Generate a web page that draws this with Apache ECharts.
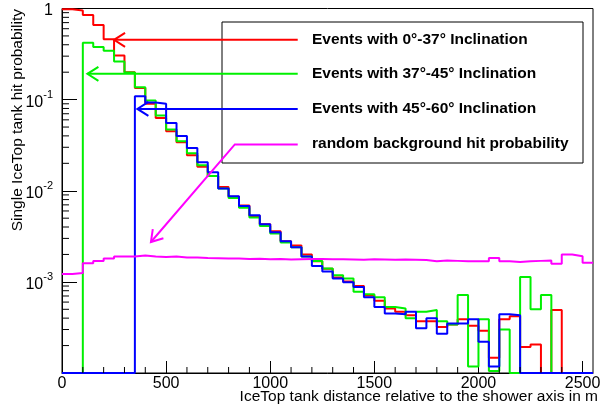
<!DOCTYPE html>
<html>
<head>
<meta charset="utf-8">
<script src="https://cdn.jsdelivr.net/npm/echarts@6/dist/echarts.min.js"></script>
<style>html,body{margin:0;padding:0;background:#fff}#c{width:609px;height:410px}</style>
</head>
<body>
<div id="c"></div>
<script>
// ---- data (bin width 50 m, bins start at 0) ----
const BIN = 50;
const xMax = 2550;
const yMin = 1e-4, yMax = 1;
const legendLabels = [
  'Events with 0°-37° Inclination',
  'Events with 37°-45° Inclination',
  'Events with 45°-60° Inclination',
  'random background hit probability'
];
const red = [0.98,0.95,0.85,0.66,0.46,0.305,0.20,0.134,0.090,0.063,
  0.045,0.034,0.0245,0.0183,0.0145,0.0110,0.0086,0.0069,0.0053,0.0043,
  0.0036,0.0028,0.0025,0.0020,0.00168,0.00139,0.00112,0.00101,0.00090,0.00071,
  0.00062,0.00051,0.00047,0.00043,0.00037,0.00037,0.00032,0.00034,0.00039,0.00033,
  0.00029,0.000147,0.00039,0.00042,0.000193,0.000205,0,0.00049,0,0,0];
const green = [0,0,0.42,0.377,0.343,0.262,0.198,0.137,0.098,0.067,
  0.047,0.035,0.0258,0.019,0.0145,0.0106,0.0083,0.0065,0.0051,0.0041,
  0.0034,0.0027,0.0024,0.0019,0.0017,0.0014,0.00118,0.00109,0.00078,0.00073,
  0.00068,0.00053,0.00051,0.00040,0.00047,0.00049,0.00037,0.00034,0.00072,0.000118,
  0.00039,0.000105,0.00030,0,0.00113,0.00050,0.00072,0,0,0,0];
const blue = [0,0,0,0,0,0,0,0.109,0.093,0.090,
  0.0555,0.0400,0.0295,0.0205,0.0160,0.0106,0.0087,0.0068,0.0054,0.0043,
  0.0035,0.0028,0.0024,0.0019,0.00149,0.0013,0.00109,0.00099,0.00088,0.00068,
  0.00053,0.00045,0.00044,0.00047,0.00031,0.00040,0.00027,0.00035,0.00035,0.00039,
  0.00022,0.000118,0.00044,0.00043,0,0,0,0,0,0,0];
const magenta = [0.00122,0.00125,0.0016,0.0017,0.0018,0.0019,0.0019,0.00195,0.0019,0.00188,
  0.0019,0.00185,0.00185,0.00183,0.00182,0.0018,0.0018,0.00178,0.00179,0.00177,
  0.00178,0.00176,0.00177,0.00178,0.00178,0.00177,0.00177,0.00176,0.00175,0.00177,
  0.00176,0.00175,0.00176,0.00175,0.00174,0.00168,0.00172,0.00170,0.00168,0.00168,
  0.00168,0.00183,0.00168,0.00165,0.00168,0.00170,0.00172,0.00158,0.0020,0.00191,0.00162];
// arrow annotations in data coordinates: [tip, ..., tail]
const arrowRed = [[250,0.453],[1132,0.453]];
const arrowGreen = [[122,0.192],[1132,0.192]];
const arrowBlue = [[362,0.079],[1132,0.079]];
const arrowMagenta = [[427,0.00274],[830,0.0322],[1132,0.0322]];
const xTitle = 'IceTop tank distance relative to the shower axis in m';
const yTitle = 'Single IceTop tank hit probability';

// ---- chart ----
const FONT = "'Liberation Sans', Arial, Helvetica, sans-serif";
const colors = ['#ff0000','#00f000','#0000ff','#ff00ff'];
function stepData(vals){
  const pts = vals.map((v,i)=>[i*BIN, v>0 ? v : yMin]);
  const last = vals[vals.length-1];
  pts.push([vals.length*BIN, last>0 ? last : yMin]);
  return pts;
}
const chart = echarts.init(document.getElementById('c'), null, {renderer:'canvas'});
const seriesVals = [red, green, blue, magenta];
chart.setOption({
  animation:false,
  backgroundColor:'#fff',
  grid:{left:62, right:16, top:8.5, bottom:37, show:true, borderColor:'#000', borderWidth:1, backgroundColor:'transparent'},
  xAxis:{
    type:'value', min:0, max:xMax, interval:500,
    axisLine:{show:true, onZero:false, lineStyle:{color:'#000', width:1}},
    axisTick:{show:true, inside:true, length:12, lineStyle:{color:'#000', width:1}},
    minorTick:{show:false},
    splitLine:{show:false},
    axisLabel:{showMaxLabel:false, color:'#000', fontSize:16, fontFamily:FONT, margin:3,
      formatter:function(v){ return String(v); }}
  },
  yAxis:{
    type:'log', logBase:10, min:yMin, max:yMax,
    axisLine:{show:true, lineStyle:{color:'#000', width:1}},
    axisTick:{show:true, inside:true, length:15, lineStyle:{color:'#000', width:1}},
    splitLine:{show:false},
    axisLabel:{
      margin:9, color:'#000',
      formatter:function(v){
        if (v >= 0.99) return '{b|1}';
        const e = Math.round(Math.log10(v));
        if (e <= -4) return '';
        return '{b|10}{s|' + e + '}';
      },
      rich:{
        b:{fontSize:16, fontFamily:FONT, color:'#000', verticalAlign:'bottom', lineHeight:21},
        s:{fontSize:11, fontFamily:FONT, color:'#000', verticalAlign:'top', lineHeight:21}
      }
    }
  },
  series: seriesVals.map((vals,i)=>({
    type:'line', step:'end', data:stepData(vals), symbol:'none', clip:true,
    lineStyle:{color:colors[i], width:2}, itemStyle:{color:colors[i]}, z:2+i
  }))
});

// ---- annotations & minor ticks placed via the chart's own scales ----
function px(p){ return chart.convertToPixel({gridIndex:0}, p); }
const g = [];
const gl = px([0, yMin]);
const left = gl[0], bottom = gl[1];
for (let k=-4; k<0; k++){
  for (let m=2; m<=9; m++){
    const yy = px([0, m*Math.pow(10,k)])[1];
    g.push({type:'line', shape:{x1:left, y1:yy, x2:left+7, y2:yy}, style:{stroke:'#000', lineWidth:1}, z:10});
  }
}
for (let xv=100; xv<xMax; xv+=100){
  if (xv % 500 === 0) continue;
  const xx = px([xv, yMin])[0];
  g.push({type:'line', shape:{x1:xx, y1:bottom, x2:xx, y2:bottom-6}, style:{stroke:'#000', lineWidth:1}, z:10});
}
g.push({type:'rect', shape:{x:222, y:22, width:361, height:141}, style:{fill:'none', stroke:'#000', lineWidth:1}, z:20});
const legendY = [40, 74, 109, 144];
legendLabels.forEach((t,i)=>{
  g.push({type:'text', x:312, y:legendY[i], style:{text:t, font:'bold 15.5px ' + FONT, fill:'#000', textVerticalAlign:'middle', textAlign:'left'}, z:21});
});
function arrow(pts, color){
  const P = pts.map(px);
  g.push({type:'polyline', shape:{points:P}, style:{stroke:color, lineWidth:2, fill:'none'}, z:22});
  const tip = P[0], nxt = P[1];
  const dx = nxt[0]-tip[0], dy = nxt[1]-tip[1];
  const L = Math.hypot(dx,dy), ux = dx/L, uy = dy/L;
  const hl = 11, hw = 7;
  const a = [tip[0]+ux*hl - uy*hw, tip[1]+uy*hl + ux*hw];
  const b = [tip[0]+ux*hl + uy*hw, tip[1]+uy*hl - ux*hw];
  g.push({type:'polyline', shape:{points:[a, tip, b]}, style:{stroke:color, lineWidth:2, fill:'none'}, z:22});
}
arrow(arrowRed, colors[0]);
arrow(arrowGreen, colors[1]);
arrow(arrowBlue, colors[2]);
arrow(arrowMagenta, colors[3]);
g.push({type:'text', x:598, y:397, style:{text:xTitle, font:'15.5px ' + FONT, fill:'#000', textAlign:'right', textVerticalAlign:'middle'}, z:21});
g.push({type:'text', x:18, y:9, rotation:Math.PI/2, style:{text:yTitle, font:'15.5px ' + FONT, fill:'#000', textAlign:'right', textVerticalAlign:'middle'}, z:21});
chart.setOption({graphic:g});
</script>
</body>
</html>
